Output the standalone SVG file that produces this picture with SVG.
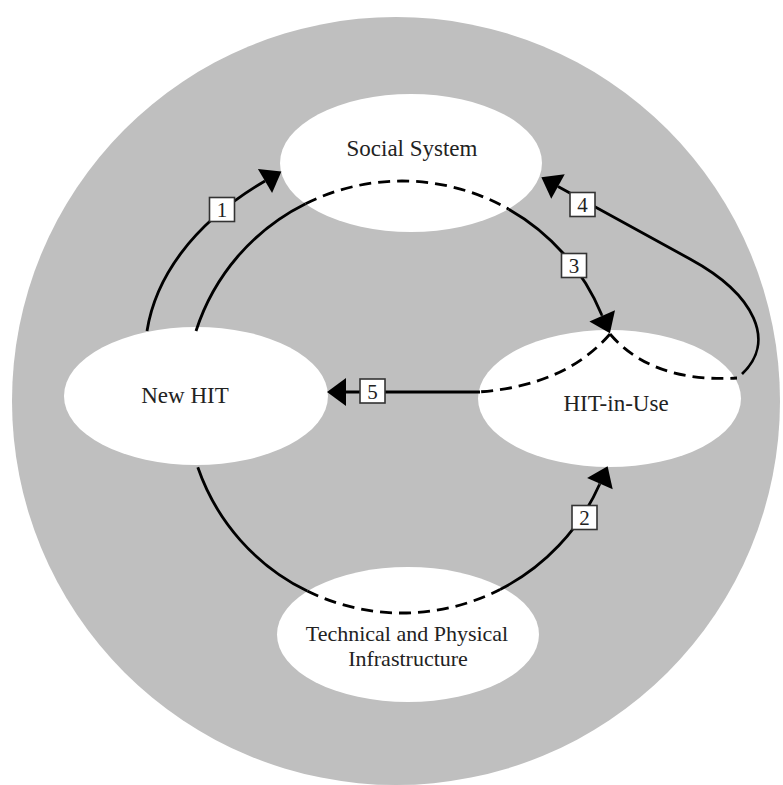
<svg xmlns="http://www.w3.org/2000/svg" width="783" height="785" viewBox="0 0 783 785">
<style>
.node ellipse{fill:#fff;stroke:none}
.node text{font-family:"Liberation Serif","Times New Roman",serif;font-size:23px;fill:#222;text-anchor:middle}
.node text.sm{font-size:22px}
.ln{fill:none;stroke:#000;stroke-width:2.8}
.dash{fill:none;stroke:#000;stroke-width:2.8;stroke-dasharray:12 7}
.lbl rect{fill:#fff;stroke:#333;stroke-width:1.6}
.lbl text{font-family:"Liberation Serif","Times New Roman",serif;font-size:21px;fill:#222;text-anchor:middle}
</style>
<defs>
<marker id="ah" markerUnits="userSpaceOnUse" markerWidth="22" markerHeight="32" viewBox="0 -16 22 32" refX="0" refY="0" orient="auto" overflow="visible">
<path d="M0,-14 L19,0 L0,14 z" fill="#000"/>
</marker>
</defs>
<rect width="783" height="785" fill="#fff"/>
<circle cx="396" cy="401" r="384" fill="#bfbfbf"/>

<g id="social-system" class="node">
<ellipse cx="411" cy="163" rx="131" ry="69"/>
<text x="412" y="156">Social System</text>
</g>
<g id="new-hit" class="node">
<ellipse cx="196" cy="396" rx="132" ry="69"/>
<text x="185" y="403">New HIT</text>
</g>
<g id="hit-in-use" class="node">
<ellipse cx="609.5" cy="398.5" rx="131.5" ry="68.5"/>
<text x="616" y="411">HIT-in-Use</text>
</g>
<g id="tech-infra" class="node">
<ellipse cx="408" cy="634.5" rx="131" ry="67.5"/>
<text class="sm" x="407" y="641">Technical and Physical</text>
<text class="sm" x="408" y="666">Infrastructure</text>
</g>

<g id="connectors">
<path class="ln" d="M147,331 C155,280 190,225 265,181" marker-end="url(#ah)"/>
<path class="ln" d="M196,331 A216,216 0 0 1 305.6,203.7"/>
<path class="dash" d="M305.6,203.7 A216,216 0 0 1 508.7,209.2"/>
<path class="ln" d="M508.7,209.2 A216,216 0 0 1 601.8,315"/>
<path class="ln" d="M601.8,315 L602.2,315.9" marker-end="url(#ah)" stroke-width="0.5"/>
<path class="ln" d="M197.8,467.3 A216,216 0 0 0 307.3,591.1"/>
<path class="dash" d="M307.3,591.1 A216,216 0 0 0 500.1,589.5"/>
<path class="ln" d="M500.1,589.5 A216,216 0 0 0 599.5,484.5"/>
<path class="ln" d="M599.5,484.5 L599.9,483.6" marker-end="url(#ah)" stroke-width="0.5"/>
<path class="dash" d="M610,334 Q565,386 478,392"/>
<path class="dash" d="M610,334 Q652,383 737,378"/>
<path class="ln" d="M742,374 C776,342 756,295 690,259 L558,186.5" marker-end="url(#ah)"/>
<path class="ln" d="M480,392 L346,392" marker-end="url(#ah)"/>
</g>

<g id="labels">
<g class="lbl"><rect x="209.5" y="197.5" width="25" height="24"/><text x="222" y="217">1</text></g>
<g class="lbl"><rect x="572" y="505.5" width="25" height="24"/><text x="584.5" y="525">2</text></g>
<g class="lbl"><rect x="561.5" y="253.5" width="25" height="24"/><text x="574" y="273">3</text></g>
<g class="lbl"><rect x="570" y="192.5" width="25" height="24"/><text x="582.5" y="212">4</text></g>
<g class="lbl"><rect x="360" y="379" width="25" height="24"/><text x="372.5" y="398.5">5</text></g>
</g>
</svg>
